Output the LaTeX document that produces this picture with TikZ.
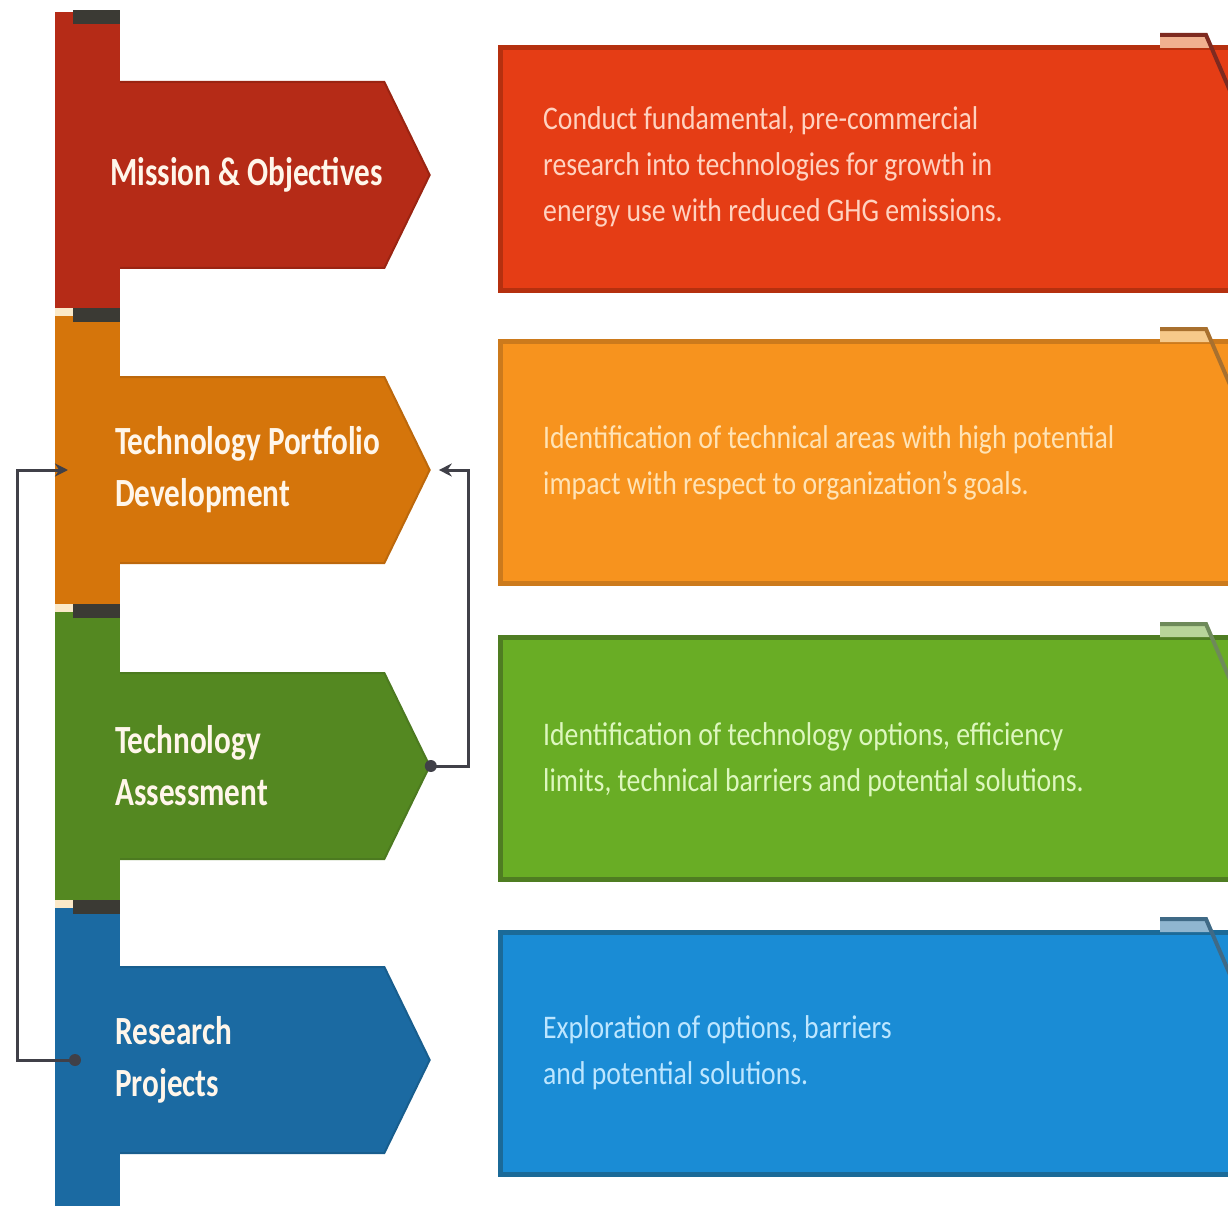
\documentclass[tikz,border=0pt]{standalone}
\usepackage{fontspec}
\newfontfamily\tabfont[FakeStretch=0.78]{Carlito}
\newfontfamily\notefont[FakeStretch=0.84]{Carlito}
\usetikzlibrary{shapes.symbols,arrows.meta,positioning}

\definecolor{misarrow}{HTML}{B52B17}
\definecolor{misedge}{HTML}{9A2412}
\definecolor{misbox}{HTML}{E53D15}
\definecolor{misboxedge}{HTML}{B5300F}
\definecolor{misfold}{HTML}{F0B08F}
\definecolor{mistab}{HTML}{7E2A20}
\definecolor{misink}{HTML}{FFD2C0}
\definecolor{portarrow}{HTML}{D5750B}
\definecolor{portedge}{HTML}{BC680C}
\definecolor{portbox}{HTML}{F7931E}
\definecolor{portboxedge}{HTML}{CC7A1C}
\definecolor{portfold}{HTML}{F6C98A}
\definecolor{porttab}{HTML}{A8702E}
\definecolor{portink}{HTML}{FFE3B5}
\definecolor{assarrow}{HTML}{548821}
\definecolor{assedge}{HTML}{4C7A20}
\definecolor{assbox}{HTML}{69AD25}
\definecolor{assboxedge}{HTML}{4F7D22}
\definecolor{assfold}{HTML}{B8D49A}
\definecolor{asstab}{HTML}{6E8A5A}
\definecolor{assink}{HTML}{DDF7BE}
\definecolor{projarrow}{HTML}{1B6AA2}
\definecolor{projedge}{HTML}{185E8E}
\definecolor{projbox}{HTML}{1A8CD5}
\definecolor{projboxedge}{HTML}{1B6A98}
\definecolor{projfold}{HTML}{8FB6D0}
\definecolor{projtab}{HTML}{3F6A86}
\definecolor{projink}{HTML}{BDE6FF}
\definecolor{capdark}{HTML}{3B3A34}
\definecolor{caplight}{HTML}{FBE9C8}
\definecolor{tabink}{HTML}{FFF6EA}
\definecolor{linkgray}{HTML}{404048}

\tikzset{
  signpost/.style={shape=signal, signal to=east, signal pointer angle=128,
    minimum width=312pt, minimum height=186pt, inner sep=0pt, line width=2pt},
  pole/.style={anchor=north west, minimum width=65pt, inner sep=0pt},
  banner/.style={anchor=west, minimum width=760pt, minimum height=242pt,
    inner sep=0pt, line width=5pt},
  tablabel/.style={anchor=west, align=left, inner sep=0pt, text=tabink,
    font=\tabfont\bfseries\fontsize{40}{52}\selectfont},
  notelabel/.style={anchor=west, align=left, inner sep=0pt,
    font=\notefont\fontsize{33}{46}\selectfont},
  link/.style={draw=linkgray, line width=3pt},
  tip/.style={-{Stealth[length=13pt,width=13pt]}}
}

\begin{document}
\begin{tikzpicture}[x=1pt,y=-1pt]
\useasboundingbox (0,0) rectangle (1228,1206);
% signposts
\node[signpost, fill=misarrow, draw=misedge] (mis) at (251,175) {};
\node[signpost, fill=portarrow, draw=portedge] (port) at (251,470) {};
\node[signpost, fill=assarrow, draw=assedge] (assess) at (251,766) {};
\node[signpost, fill=projarrow, draw=projedge] (proj) at (251,1060) {};
% poles
\node[pole, fill=misarrow, minimum height=298pt] (misbar) at (55,12) {};
\node[pole, fill=portarrow, minimum height=298pt] (portbar) at (55,308) {};
\node[pole, fill=assarrow, minimum height=298pt] (assbar) at (55,604) {};
\node[pole, fill=projarrow, minimum height=310pt] (projbar) at (55,900) {};
\fill[capdark] (73,10) rectangle (120,24);
\foreach \t in {308,604,900}{
  \fill[capdark] (73,\t) rectangle (120,\t+14);
  \fill[caplight] (55,\t) rectangle (73,\t+8);
}
% labels
\node[tablabel] (mistext) at (110,175) {Mission \& Objectives};
\node[tablabel] (porttext) at (115,470) {Technology Portfolio\\Development};
\node[tablabel] (asstext) at (115,766) {Technology\\Assessment};
\node[tablabel] (projtext) at (115,1060) {Research\\Projects};
% banners
\node[banner, fill=misbox, draw=misboxedge] (misnote) at (498,169) {};
\node[banner, fill=portbox, draw=portboxedge] (portnote) at (498,462) {};
\node[banner, fill=assbox, draw=assboxedge] (assnote) at (498,758) {};
\node[banner, fill=projbox, draw=projboxedge] (projnote) at (498,1053) {};
\foreach \t/\fc/\ec in {48/misfold/mistab,342/portfold/porttab,637/assfold/asstab,932/projfold/projtab}{
  \fill[\fc] (1160,\t-13) -- (1206,\t-13) -- (1212,\t) -- (1160,\t) -- cycle;
  \draw[\ec, line width=4pt] (1160,\t-13) -- (1206,\t-13) -- (1240,\t+66);
}
\node[notelabel, text=misink] (misinfo) at (543,167)
  {Conduct fundamental, pre-commercial\\research into technologies for growth in\\energy use with reduced GHG emissions.};
\node[notelabel, text=portink] (portinfo) at (543,463)
  {Identification of technical areas with high potential\\impact with respect to organization’s goals.};
\node[notelabel, text=assink] (assinfo) at (543,760)
  {Identification of technology options, efficiency\\limits, technical barriers and potential solutions.};
\node[notelabel, text=projink] (projinfo) at (543,1053)
  {Exploration of options, barriers\\and potential solutions.};
% feedback loops
\draw[link, tip] (proj.west -| projbar.west) ++(20,0) -- ++(-58,0) |- ([xshift=13pt]port.west -| portbar.west);
\fill[linkgray] ([xshift=20pt]proj.west -| projbar.west) circle (6pt);
\draw[link, tip] (assess.east) -- ++(38,0) |- ([xshift=8pt]port.east);
\fill[linkgray] (assess.east) circle (6pt);
\end{tikzpicture}
\end{document}
